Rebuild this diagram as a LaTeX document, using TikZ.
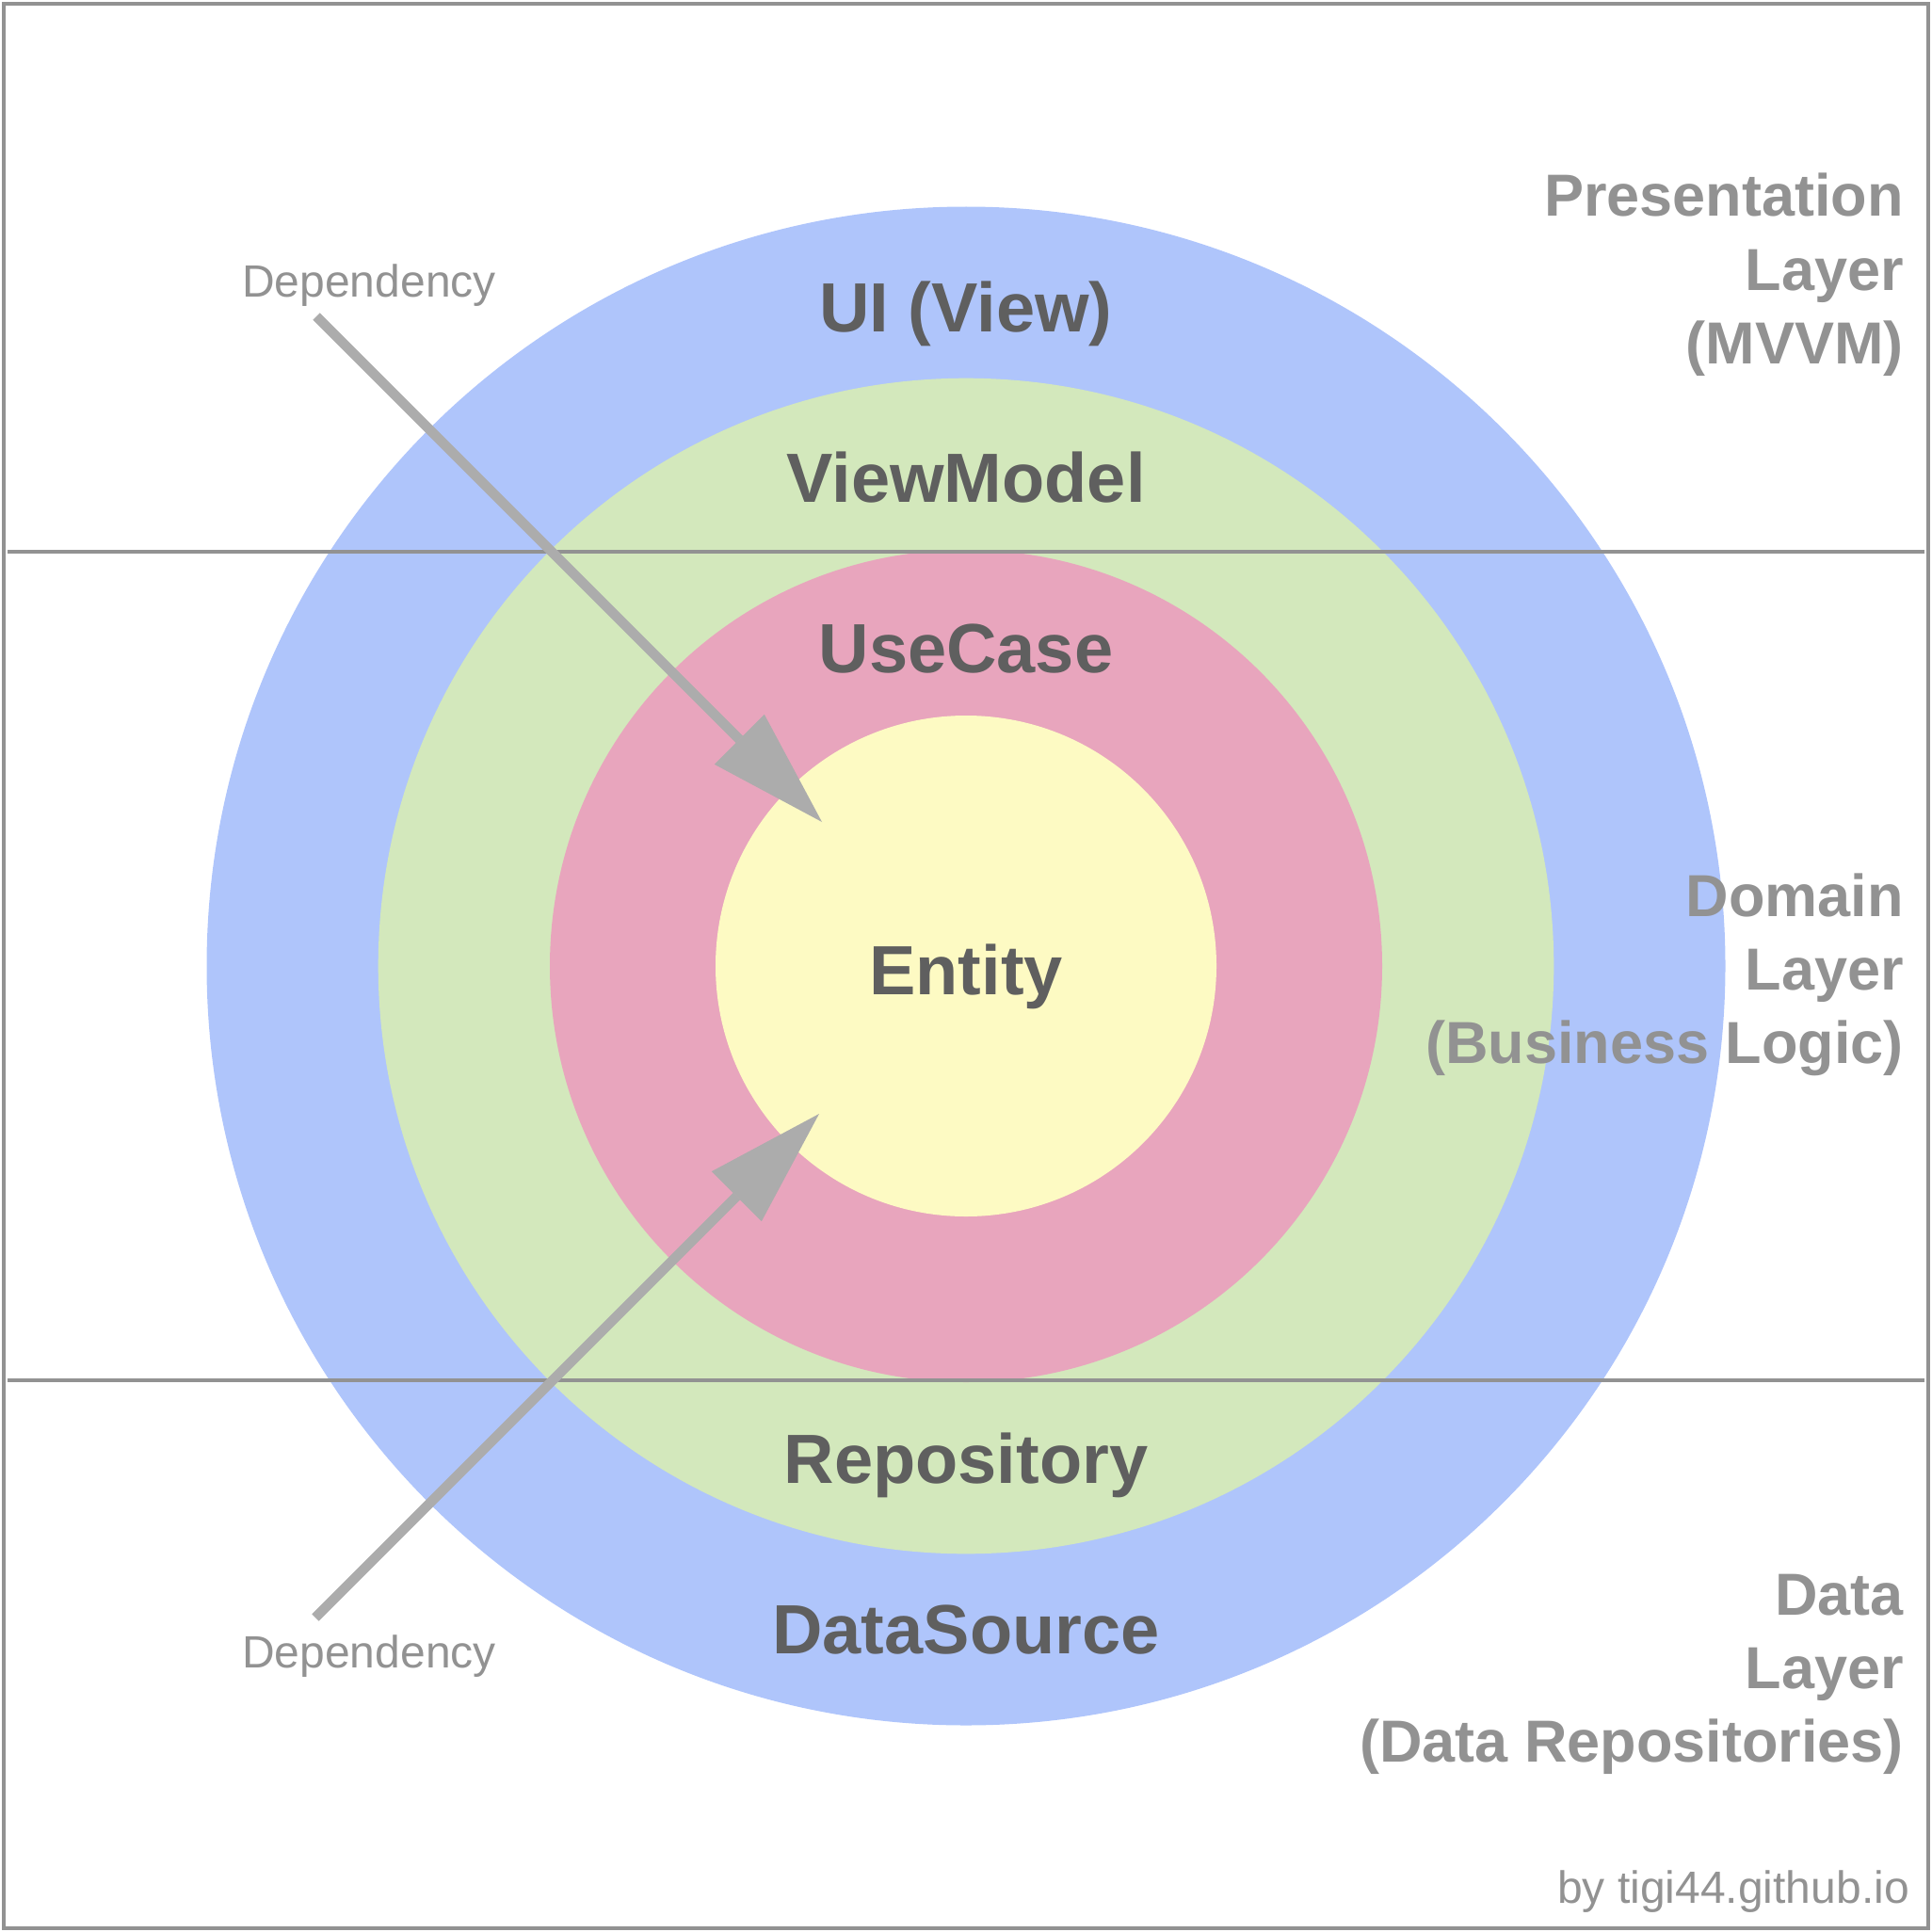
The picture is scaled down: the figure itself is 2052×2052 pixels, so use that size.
\documentclass[tikz,border=0pt]{standalone}
\usepackage{fontspec}
\setmainfont{Liberation Sans}
\usetikzlibrary{arrows.meta}

\definecolor{ringblue}{RGB}{175,197,251}
\definecolor{ringgreen}{RGB}{211,232,188}
\definecolor{ringpink}{RGB}{232,165,189}
\definecolor{ringyellow}{RGB}{253,250,195}
\definecolor{labeldark}{RGB}{95,95,95}
\definecolor{labelgray}{RGB}{146,146,146}
\definecolor{arrowgray}{RGB}{172,172,172}
\definecolor{rulegray}{RGB}{146,146,146}

\begin{document}
\begin{tikzpicture}[x=1pt,y=-1pt,
  ringlabel/.style={anchor=base, inner sep=0pt, text=labeldark,
    font=\fontsize{74}{89}\selectfont\bfseries},
  layerlabel/.style={anchor=base east, inner sep=0pt, text=labelgray,
    font=\fontsize{63}{76}\selectfont\bfseries},
  note/.style={anchor=base, inner sep=0pt, text=labelgray,
    font=\fontsize{48}{58}\selectfont},
  divider/.style={draw=rulegray, line width=4pt},
  deparrow/.style={draw=arrowgray, line width=10.5pt,
    -{Triangle[length=124pt,width=75pt,line width=0pt]}}
]
\useasboundingbox (0,0) rectangle (2052,2052);

% frame
\draw[rulegray, line width=4pt] (4,4) rectangle (2047.5,2047.5);

% concentric rings
\coordinate (c) at (1026,1026);
\fill[ringblue]   (c) circle[radius=806.5];
\fill[ringgreen]  (c) circle[radius=624.3];
\fill[ringpink]   (c) circle[radius=442];
\fill[ringyellow] (c) circle[radius=266];

% layer dividers
\coordinate (d1w) at (8,585.5);
\coordinate (d1e) at (2044,585.5);
\coordinate (d2w) at (8,1466);
\coordinate (d2e) at (2044,1466);
\draw[divider] (d1w) -- (d1e);
\draw[divider] (d2w) -- (d2e);

% ring labels
\node[ringlabel] (ui)   at (1026,352.5) {UI (View)};
\node[ringlabel] (vm)   at (1026,533)   {ViewModel};
\node[ringlabel] (uc)   at (1026,714)   {UseCase};
\node[ringlabel] (ent)  at (1026,1056)  {Entity};
\node[ringlabel] (repo) at (1026,1575)  {Repository};
\node[ringlabel] (ds)   at (1026,1756)  {DataSource};

% layer names
\node[layerlabel] (p1) at (2022,230) {Presentation};
\node[layerlabel] (p2) at (2022,308) {Layer};
\node[layerlabel] (p3) at (2022,386) {(MVVM)};
\node[layerlabel] (m1) at (2022,973)  {Domain};
\node[layerlabel] (m2) at (2022,1051) {Layer};
\node[layerlabel] (m3) at (2022,1129) {(Business Logic)};
\node[layerlabel] (b1) at (2022,1715) {Data};
\node[layerlabel] (b2) at (2022,1793) {Layer};
\node[layerlabel] (b3) at (2022,1871) {(Data Repositories)};

% credit
\node[note, anchor=base east] (credit) at (2028,2021.5) {by tigi44.github.io};

% dependency arrows
\node[note] (deptop) at (392,315.5) {Dependency};
\node[note] (depbot) at (392,1771)  {Dependency};
\coordinate (s1) at (336,336);
\coordinate (t1) at (873,873);
\coordinate (s2) at (335,1718);
\coordinate (t2) at (870,1183);
\draw[deparrow] (s1) -- (t1);
\draw[deparrow] (s2) -- (t2);
\end{tikzpicture}
\end{document}
